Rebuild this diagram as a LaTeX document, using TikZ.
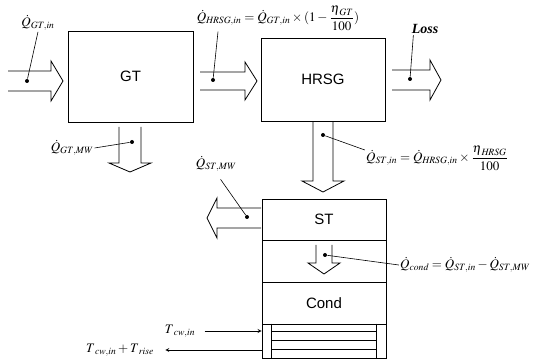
\documentclass[tikz,border=0pt]{standalone}
\usepackage{amsmath}
\usepackage{mathptmx}
\usepackage{fontspec}
\setmainfont{Liberation Serif}
\newfontfamily\boxfont{Liberation Sans}
\usetikzlibrary{positioning}
% hollow flow arrow: base x, base y, angle, shaft length, shaft half width, head half width, head length
\newcommand{\flowarrow}[7]{%
  \begin{scope}[shift={(#1,#2)}, rotate=#3]
    \draw (0,-#5) -- (#4,-#5) -- (#4,-#6) -- (#4+#7,0) -- (#4,#6) -- (#4,#5) -- (0,#5);
  \end{scope}%
}

\begin{document}
\begin{tikzpicture}[x=1pt, y=-1pt, line width=0.8pt, >=stealth,
  unit/.style={draw, minimum width=124pt, inner sep=0pt,
    font=\boxfont\fontsize{15}{18}\selectfont},
  lbl/.style={inner sep=1pt, font=\fontsize{13}{15}\selectfont},
  dot/.style={circle, fill, inner sep=0pt, minimum size=4pt},
  leader/.style={line width=0.6pt}]
\useasboundingbox (0,0) rectangle (544,363);

% --- UNITS ---
\node[unit, minimum width=125pt, minimum height=91pt] (gt)   at (130.5,76.5) {GT};
\node[unit, minimum height=83pt]                       (hrsg) at (323,79.5)   {HRSG};
\node[unit, minimum height=41pt] (st)   at (324,219.5) {ST};
\node[unit, minimum height=42pt] (mid)  at (324,261)   {};
\node[unit, minimum height=42pt] (cond) at (324,303)   {Cond};
\node[unit, minimum height=34pt] (cw)   at (324,341)   {};

% cooling water tubes
\draw ([xshift=10pt]cw.north west) -- ([xshift=10pt]cw.south west);
\draw ([xshift=-10pt]cw.north east) -- ([xshift=-10pt]cw.south east);
\foreach \ty in {331,340,349}
  \draw (272,\ty) -- (376,\ty);

% --- FLOW ARROWS ---
\flowarrow{8}{81}{0}{43}{10}{20}{12}
\flowarrow{200}{81}{0}{45}{9}{19}{12}
\flowarrow{392}{80}{0}{38}{10}{20}{11}
\flowarrow{130}{127}{-90}{36}{11}{21}{9}
\flowarrow{323}{122}{-90}{59}{10}{21}{11}
\flowarrow{261}{218}{180}{44}{10}{20}{10}
\flowarrow{324}{245}{-90}{18}{8}{16}{11}

% --- DOTS ---
\node[dot] (d1) at (27,81)   {};
\node[dot] (d2) at (213,80)  {};
\node[dot] (d3) at (410,79)  {};
\node[dot] (d4) at (132,142) {};
\node[dot] (d5) at (323,135) {};
\node[dot] (d6) at (247,217) {};
\node[dot] (d7) at (325,255) {};

% --- LABELS ---
\node[lbl] (qgtin) at (38,23) {$\dot{Q}_{\mathit{GT},\mathit{in}}$};
\node[lbl] (qhrsg) at (278,18)
  {$\dot{Q}_{\mathit{HRSG},\mathit{in}} = \dot{Q}_{\mathit{GT},\mathit{in}} \times (1-\dfrac{\boldsymbol{\eta}_{\mathit{GT}}}{100})$};
\node[lbl, font=\fontsize{14}{16}\selectfont\bfseries\itshape] (loss) at (425,29) {Loss};
\node[lbl] (qgtmw) at (72,148) {$\dot{Q}_{\mathit{GT},\mathit{MW}}$};
\node[lbl] (qstin) at (437,158)
  {$\dot{Q}_{\mathit{ST},\mathit{in}} = \dot{Q}_{\mathit{HRSG},\mathit{in}} \times \dfrac{\boldsymbol{\eta}_{\mathit{HRSG}}}{100}$};
\node[lbl] (qstmw) at (216,164) {$\dot{Q}_{\mathit{ST},\mathit{MW}}$};
\node[lbl] (qcond) at (465,265)
  {$\dot{Q}_{\mathit{cond}} = \dot{Q}_{\mathit{ST},\mathit{in}} - \dot{Q}_{\mathit{ST},\mathit{MW}}$};
\node[lbl] (tcwin)  at (180,331) {$\boldsymbol{T}_{\mathit{cw},\mathit{in}}$};
\node[lbl] (tcwout) at (120,350) {$\boldsymbol{T}_{\mathit{cw},\mathit{in}} + \boldsymbol{T}_{\mathit{rise}}$};

% --- LEADERS ---
\draw[leader] (d1) -- (qgtin.south);
\draw[leader] (d2) -- ([xshift=5pt]d2 |- qhrsg.south);
\draw[leader] (d3) -- ([xshift=3pt]loss.south west);
\draw[leader] (d4) -- (qgtmw.east);
\draw[leader] (d5) -- ([yshift=8pt]qstin.west);
\draw[leader, shorten >=8pt] (d6) -- (qstmw.south);
\draw[leader] (d7) -- (qcond.west);

% --- COOLING WATER ---
\draw[->] ([xshift=8pt]tcwin.east) -- (tcwin.east -| cw.west);
\draw[->] (tcwout.east -| cw.west) -- ([xshift=10pt]tcwout.east);

\end{tikzpicture}
\end{document}
